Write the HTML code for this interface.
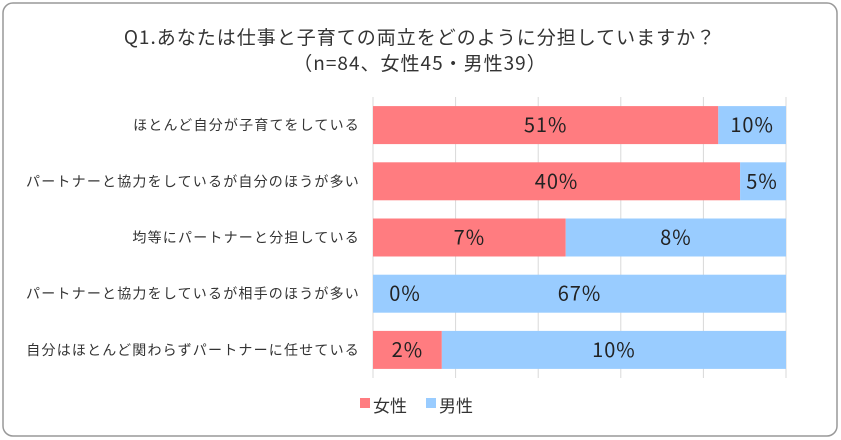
<!DOCTYPE html>
<html><head><meta charset="utf-8"><style>
body{margin:0;background:#fff;font-family:"Noto Sans CJK JP","Liberation Sans",sans-serif}
#wrap{position:relative;width:841px;height:440px;overflow:hidden}
svg text{font-family:"Noto Sans CJK JP","Liberation Sans",sans-serif}
</style></head><body>
<div id="wrap">
<svg id="svg" width="841" height="440" xmlns="http://www.w3.org/2000/svg">
<rect x="3" y="3" width="834" height="433" rx="10" fill="#fff" stroke="#999" stroke-width="1.5"/>
<text x="420" y="44" text-anchor="middle" font-size="19" letter-spacing="1" fill="#333">Q1.あなたは仕事と子育ての両立をどのように分担していますか？</text>
<text x="420" y="70" text-anchor="middle" font-size="19" letter-spacing="1" fill="#333">（n=84、女性45・男性39）</text>
<g id="grid"></g>
<g id="bars"></g>
<g>
<rect x="360" y="398" width="10" height="10" fill="#FF7C80"/>
<text x="373" y="412" font-size="17" fill="#333">女性</text>
<rect x="426" y="398" width="10" height="10" fill="#99CCFF"/>
<text x="439" y="412" font-size="17" fill="#333">男性</text>
</g>
</svg>
</div>
<script>
const categories=["ほとんど自分が子育てをしている","パートナーと協力をしているが自分のほうが多い","均等にパートナーと分担している","パートナーと協力をしているが相手のほうが多い","自分はほとんど関わらずパートナーに任せている"];
const femaleValues=[51,40,7,0,2];
const maleValues=[10,5,8,67,10];
const gridTicks=[0,0.2,0.4,0.6,0.8,1];
const NS="http://www.w3.org/2000/svg";
const x0=373,x1=786,yTop=97,yBot=378;
const band=(yBot-yTop)/categories.length,barH=38;
function xs(f){return x0+f*(x1-x0);}
function yc(i){return yTop+band*(i+0.5);}
function mk(tag,attrs,parent){const e=document.createElementNS(NS,tag);for(const k in attrs)e.setAttribute(k,attrs[k]);parent.appendChild(e);return e;}
const grid=document.getElementById('grid'),bars=document.getElementById('bars');
gridTicks.forEach((t,i)=>{
 const l=mk('line',{x1:xs(t),x2:xs(t),y1:yTop,y2:yBot,stroke:'#d9d9d9','stroke-width':1},grid);
 
 
});
categories.forEach((c,i)=>{
 const tot=femaleValues[i]+maleValues[i];
 const ff=tot?femaleValues[i]/tot:0;
 const y=yc(i);
 const lab=mk('text',{x:360,y:y+5,'text-anchor':'end','font-size':14,'letter-spacing':'1.2',fill:'#333'},bars);
 lab.textContent=c;
 
 
 const r1=mk('rect',{x:xs(0),y:y-barH/2,width:xs(ff)-xs(0),height:barH,fill:'#FF7C80'},bars);
 
 
 const r2=mk('rect',{x:xs(ff),y:y-barH/2,width:xs(1)-xs(ff),height:barH,fill:'#99CCFF'},bars);
 
 
 let cx1=Math.max((xs(0)+xs(ff))/2,x0+32);
 const t1=mk('text',{x:cx1,y:y+7,'text-anchor':'middle','font-size':20,'letter-spacing':'1',fill:'#222'},bars);
 t1.textContent=femaleValues[i]+'%';
 
 
 let cx2=Math.min((xs(ff)+xs(1))/2,x1-24);
 const t2=mk('text',{x:cx2,y:y+7,'text-anchor':'middle','font-size':20,'letter-spacing':'1',fill:'#222'},bars);
 t2.textContent=maleValues[i]+'%';
 
 
});
</script>
</body></html>
